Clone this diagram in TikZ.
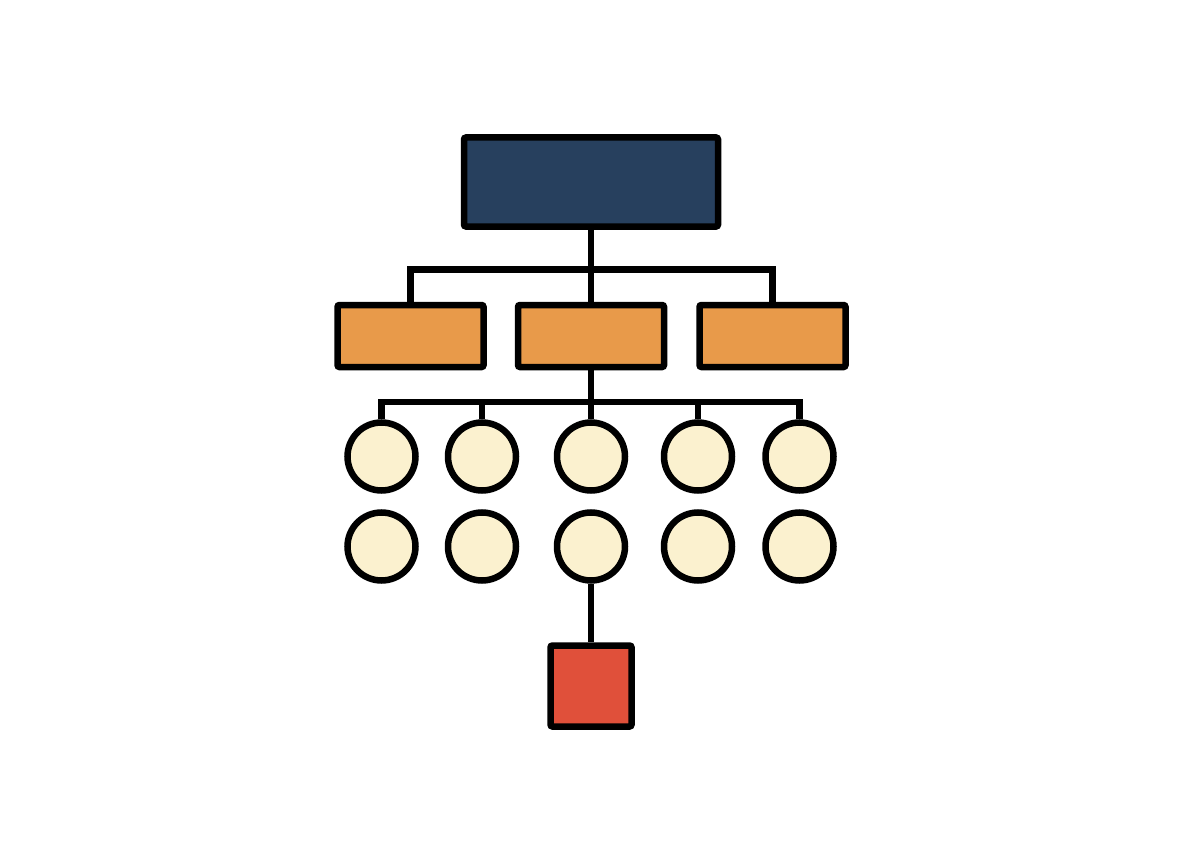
\documentclass[tikz,border=0pt]{standalone}
\definecolor{navy}{HTML}{27405E}
\definecolor{orng}{HTML}{E89A4A}
\definecolor{cream}{HTML}{FBF1CF}
\definecolor{redsq}{HTML}{E0503A}
\tikzset{
  base/.style={draw=black, line width=6.5pt, rounded corners=2pt, inner sep=0pt},
  topbox/.style={base, rectangle, fill=navy, minimum width=254pt, minimum height=89pt},
  midbox/.style={base, rectangle, fill=orng, minimum width=146pt, minimum height=62pt},
  leaf/.style={draw=black, line width=6.5pt, circle, fill=cream, minimum size=68pt, inner sep=0pt},
  endbox/.style={base, rectangle, fill=redsq, minimum width=81pt, minimum height=81pt},
  conn/.style={draw=black, line width=6.5pt}
}
\begin{document}
\begin{tikzpicture}[x=1pt,y=-1pt]
\useasboundingbox (0,0) rectangle (1184,864);
\fill[white] (0,0) rectangle (1184,864);
\node[topbox] (top) at (591,182) {};
\node[midbox] (m1) at (410.5,336) {};
\node[midbox] (m2) at (591,336) {};
\node[midbox] (m3) at (772.5,336) {};
\foreach \i/\x in {1/381.5,2/482,3/591,4/698,5/799.5}{
  \node[leaf] (a\i) at (\x,456.5) {};
  \node[leaf] (b\i) at (\x,546.5) {};
}
\node[endbox] (e) at (591,686) {};
\coordinate (bus1) at (0,269.5);
\coordinate (bus2) at (0,402);
% level 1 connectors
\draw[conn] (top.south) -- (m2.north);
\draw[conn] (m1.north) |- (bus1 -| top.south) -| (m3.north);
% level 2 connectors
\draw[conn] (m2.south) -- (a3.north);
\draw[conn] (a1.north) |- (bus2 -| m2.south) -| (a5.north);
\draw[conn] (a2.north) -- (a2.north |- bus2);
\draw[conn] (a4.north) -- (a4.north |- bus2);
% bottom
\draw[conn] (b3.south) -- (e.north);
\end{tikzpicture}
\end{document}
